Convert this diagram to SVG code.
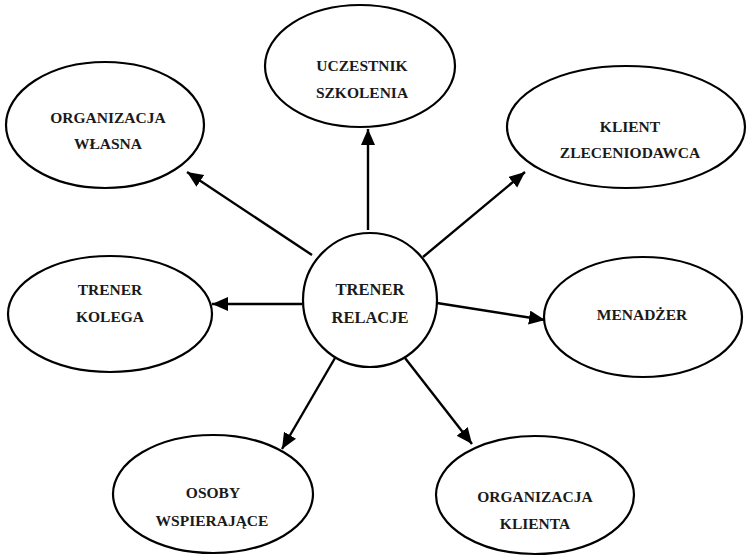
<svg xmlns="http://www.w3.org/2000/svg" width="747" height="556" viewBox="0 0 747 556">
  <defs>
    <style>
      .node ellipse, .node circle { fill: #ffffff; stroke: #000000; stroke-width: 2.2; }
      .node text { font-weight: bold; font-size: 15.5px; fill: #1a1a1a; text-anchor: middle; }
      #center text { font-size: 16.5px; }
      .edges line { stroke: #000000; stroke-width: 2.4; marker-end: url(#arrow); }
    </style>
    <marker id="arrow" markerUnits="userSpaceOnUse" markerWidth="17" markerHeight="15" refX="16" refY="7" orient="auto">
      <path d="M0,0 L16,7 L0,14 z" fill="#000000"/>
    </marker>
  </defs>
  <rect width="747" height="556" fill="#ffffff"/>

  <!-- connectors from the centre out to each relation -->
  <g class="edges">
    <line x1="368" y1="230" x2="368" y2="129"/>
    <line x1="312" y1="255" x2="187" y2="172"/>
    <line x1="423" y1="257" x2="525" y2="172"/>
    <line x1="302" y1="304" x2="212" y2="304"/>
    <line x1="437" y1="303" x2="545" y2="320"/>
    <line x1="335" y1="358" x2="282" y2="449"/>
    <line x1="405" y1="358" x2="472" y2="444"/>
  </g>

  <g font-family="Liberation Serif, Times New Roman, serif">
    <g id="center" class="node">
      <circle cx="370" cy="300" r="67"/>
      <text x="370" y="295">TRENER</text>
      <text x="370" y="323">RELACJE</text>
    </g>

    <g id="uczestnik" class="node">
      <ellipse cx="360" cy="66" rx="95" ry="61"/>
      <text x="362" y="71">UCZESTNIK</text>
      <text x="362" y="98">SZKOLENIA</text>
    </g>

    <g id="organizacja-wlasna" class="node">
      <ellipse cx="105" cy="125" rx="99" ry="63"/>
      <text x="108" y="123">ORGANIZACJA</text>
      <text x="108" y="149">WŁASNA</text>
    </g>

    <g id="klient" class="node">
      <ellipse cx="626" cy="127" rx="119" ry="61"/>
      <text x="630" y="132">KLIENT</text>
      <text x="630" y="158">ZLECENIODAWCA</text>
    </g>

    <g id="trener-kolega" class="node">
      <ellipse cx="110" cy="314" rx="102" ry="58"/>
      <text x="110" y="295">TRENER</text>
      <text x="110" y="322">KOLEGA</text>
    </g>

    <g id="menadzer" class="node">
      <ellipse cx="643" cy="317" rx="99" ry="60"/>
      <text x="642" y="320">MENADŻER</text>
    </g>

    <g id="osoby-wspierajace" class="node">
      <ellipse cx="213" cy="494" rx="100" ry="59"/>
      <text x="213" y="498">OSOBY</text>
      <text x="212" y="526">WSPIERAJĄCE</text>
    </g>

    <g id="organizacja-klienta" class="node">
      <ellipse cx="535" cy="495" rx="99" ry="59"/>
      <text x="535" y="502">ORGANIZACJA</text>
      <text x="535" y="529">KLIENTA</text>
    </g>
  </g>
</svg>
